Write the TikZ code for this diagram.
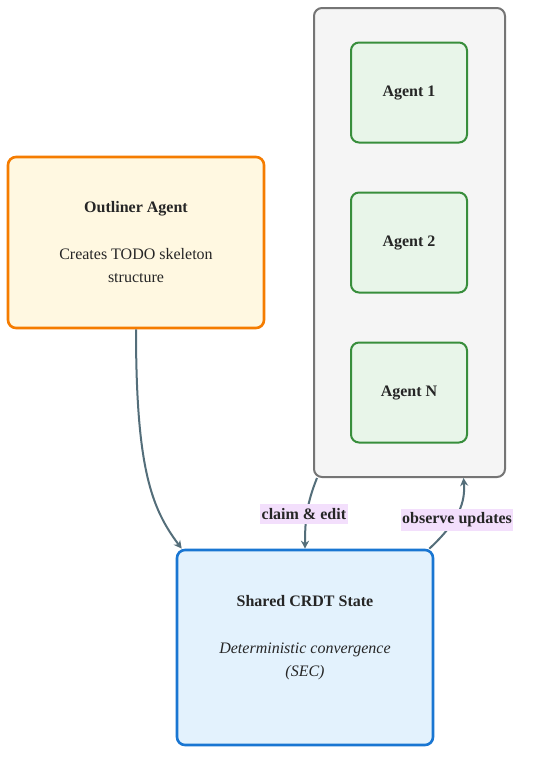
\documentclass[tikz,border=0pt]{standalone}
\usepackage{fontspec}
\setmainfont{Liberation Serif}
\usetikzlibrary{arrows.meta}
\definecolor{outlinerline}{HTML}{F57C00}
\definecolor{outlinerfill}{HTML}{FFF8E1}
\definecolor{groupline}{HTML}{757575}
\definecolor{groupfill}{HTML}{F5F5F5}
\definecolor{agentline}{HTML}{388E3C}
\definecolor{agentfill}{HTML}{E8F5E9}
\definecolor{crdtline}{HTML}{1976D2}
\definecolor{crdtfill}{HTML}{E3F2FD}
\definecolor{flowline}{HTML}{546E7A}
\definecolor{tagfill}{HTML}{F3DFFC}
\tikzset{box/.style={draw, rounded corners=8pt, align=center, inner sep=0pt,
    font=\fontsize{16}{23}\selectfont, text=black!85}}
\tikzset{outliner/.style={box, line width=2.6pt, draw=outlinerline, fill=outlinerfill,
    minimum width=256pt, minimum height=171pt}}
\tikzset{group/.style={box, line width=2pt, draw=groupline, fill=groupfill,
    minimum width=191pt, minimum height=469pt}}
\tikzset{agent/.style={box, line width=2pt, draw=agentline, fill=agentfill,
    minimum width=116pt, minimum height=100pt, font=\fontsize{16}{23}\selectfont\bfseries}}
\tikzset{crdt/.style={box, line width=2.6pt, draw=crdtline, fill=crdtfill,
    minimum width=256pt, minimum height=195pt}}
\tikzset{flow/.style={draw=flowline, line width=2pt, -{Stealth[length=8pt,width=8pt]}}}
\tikzset{tag/.style={fill=tagfill, inner xsep=1.5pt, inner ysep=4pt,
    font=\fontsize{16}{16}\selectfont\bfseries, text=black!85}}

\begin{document}
\begin{tikzpicture}[x=1pt,y=-1pt]
    \useasboundingbox[fill=white] (0,0) rectangle (540,764);
    \node[group] (team) at (409.5,242.5) {};
    \foreach \name/\y in {1/92.5, 2/242.5, N/392.5}{
        \node[agent] (agent\name) at (409,\y) {Agent \name};
    }
    \node[outliner] (outliner) at (136,242.5)
        {\textbf{Outliner Agent}\\[24pt]Creates TODO skeleton\\structure};
    \node[crdt] (crdt) at (305,647.5)
        {\textbf{Shared CRDT State}\\[24pt]\textit{Deterministic convergence}\\\textit{(SEC)}\\\mbox{}};

    \draw[flow] (outliner.south) .. controls +(0,140) and +(-30,-40) .. ([xshift=6pt]crdt.north west);
    \draw[flow] ([xshift=4pt]team.south west) to[out=-112,in=90]
        node[tag, pos=0.52, xshift=-3pt] (claim) {claim \& edit} (crdt.north);
    \draw[flow] ([xshift=-5pt]crdt.north east) .. controls +(30,-28) and +(2,24) ..
        node[tag, pos=0.38, xshift=3pt] (observe) {observe updates} ([xshift=54pt]team.south);
\end{tikzpicture}
\end{document}
